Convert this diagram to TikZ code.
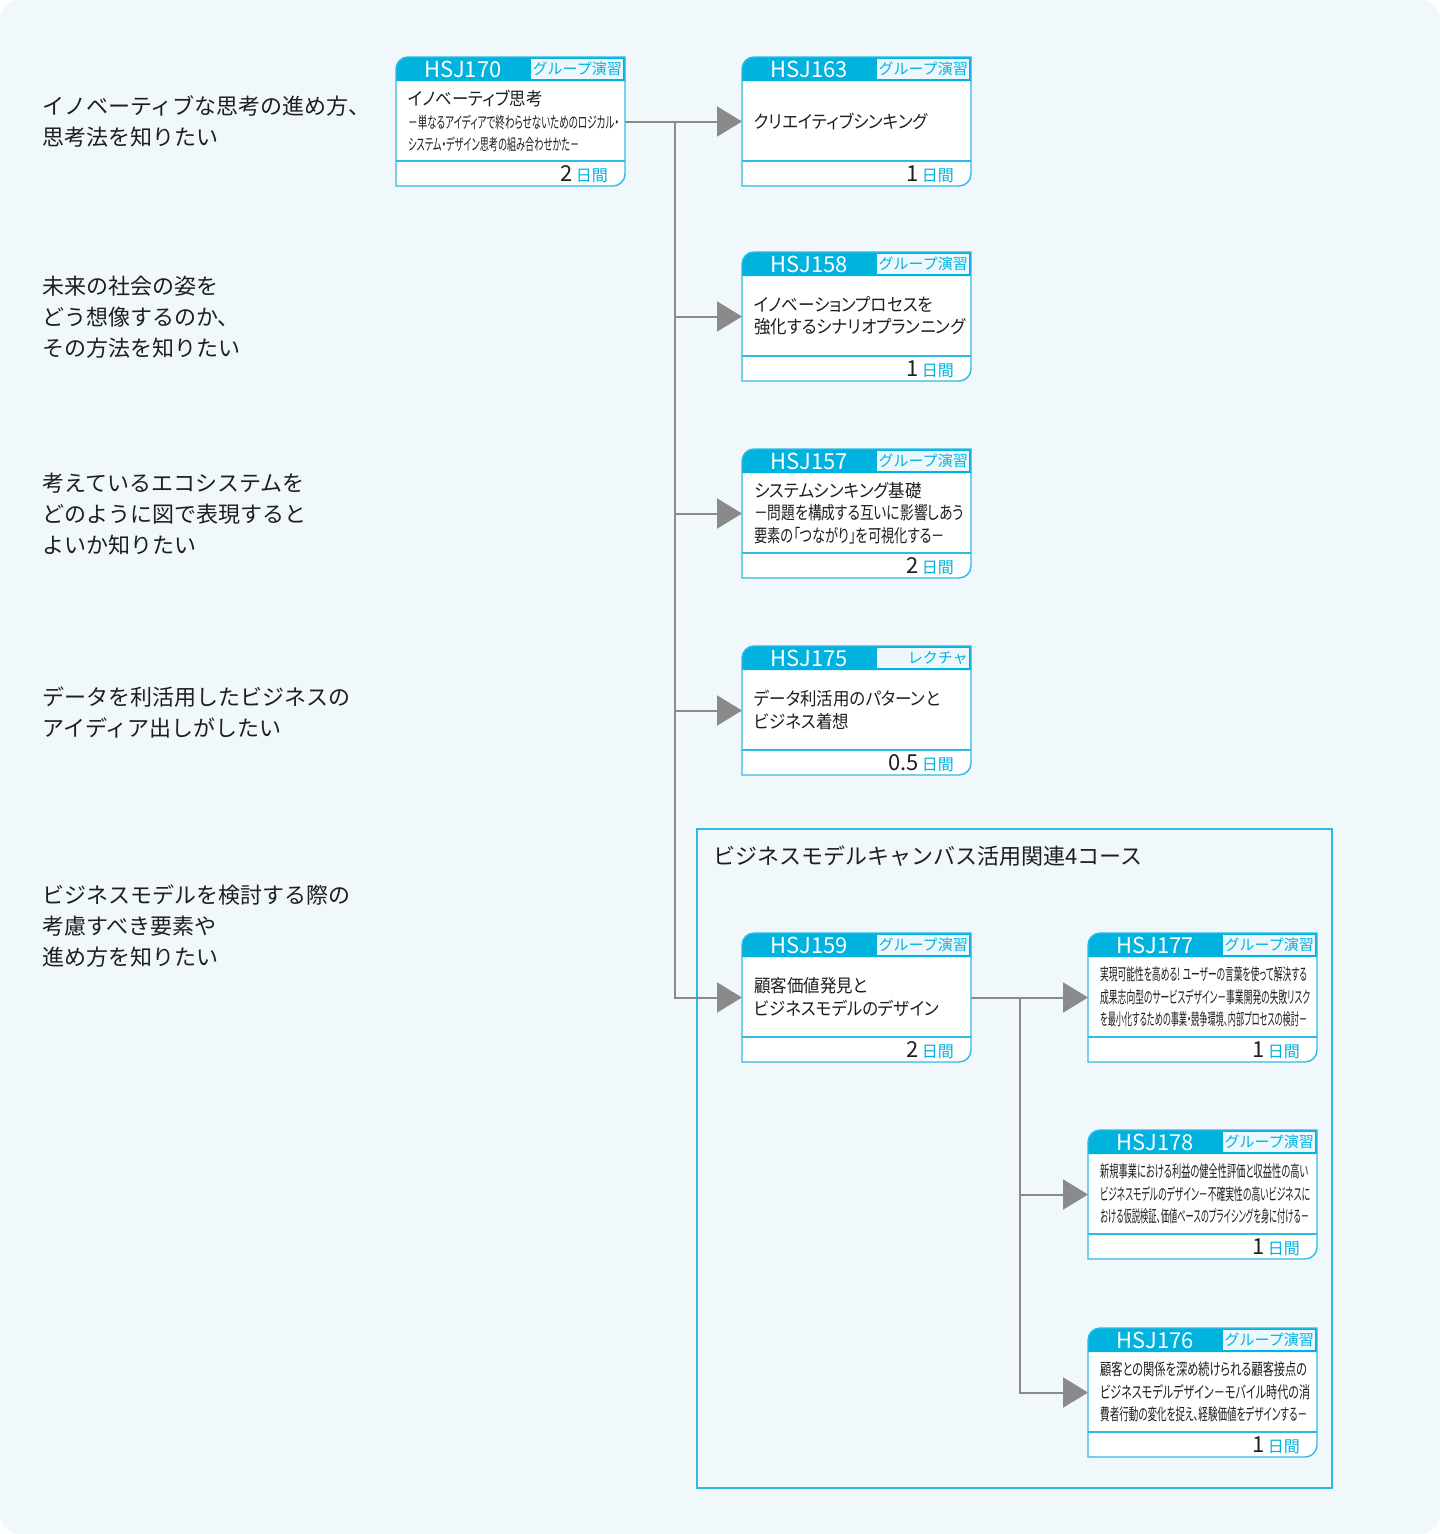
\documentclass[tikz,border=0pt]{standalone}
\usepackage{fontspec}
\usepackage{graphicx}
\setmainfont{Noto Sans CJK JP}
\newfontfamily\titlefont[FakeStretch=0.915,RawFeature=+palt]{Noto Sans CJK JP}
\newfontfamily\condfont[FakeStretch=0.6,RawFeature=+palt]{Noto Sans CJK JP}
\usetikzlibrary{arrows.meta,positioning,calc,fit}
\definecolor{HsjCyan}{RGB}{0,178,222}
\definecolor{HsjEdge}{RGB}{45,186,228}
\definecolor{TagFill}{RGB}{236,248,253}
\definecolor{PageBlue}{RGB}{241,248,252}
\definecolor{Ink}{RGB}{30,30,30}
\definecolor{LinkGrey}{RGB}{138,138,138}
\tikzset{
  coursebox/.style={minimum width=229pt, minimum height=129pt, inner sep=0pt, outer sep=0pt},
  boxedge/.style={draw=HsjEdge, line width=1.4pt},
  codetxt/.style={text=white, inner sep=0pt, font=\fontsize{22}{24}\selectfont},
  tagbox/.style={fill=TagFill, minimum width=92pt, minimum height=20pt, inner sep=0pt},
  tagtxt/.style={text=HsjCyan, inner sep=1pt, font=\fontsize{15}{16}\selectfont},
  titletxt/.style={text=Ink, align=left, inner sep=0pt, font=\titlefont\fontsize{18}{22.5}\selectfont},
  daytxt/.style={text=Ink, inner sep=0pt, font=\fontsize{22}{24}\selectfont},
  asklabel/.style={text=Ink, align=left, inner sep=0pt, anchor=west, font=\fontsize{22}{31}\selectfont},
  groupbox/.style={draw=HsjEdge, line width=1.4pt, inner sep=0pt},
  grouptitle/.style={text=Ink, inner sep=0pt, anchor=west, font=\fontsize{22}{24}\selectfont},
  flowarr/.style={-{Triangle[length=25pt, width=30pt]}, draw=LinkGrey, line width=2pt},
}
% condensed line squeezed to a set width
\newcommand\fitline[3]{\resizebox{#2pt}{\height}{\condfont\fontsize{#1}{22}\selectfont #3}}
% card outline: top-left and bottom-right corners rounded
\newcommand\cardpath[1]{(#1.south west) -- ([yshift=-12pt]#1.north west)
  arc[start angle=180, end angle=90, radius=12pt] -- (#1.north east)
  -- ([yshift=12pt]#1.south east) arc[start angle=0, end angle=-90, radius=12pt] -- cycle}
% #1 node, #2 code, #3 tag, #4 title, #5 days
\newcommand\coursecard[5]{%
  \fill[white] \cardpath{#1};
  \fill[HsjCyan] ([yshift=-24pt]#1.north west) -- ([yshift=-12pt]#1.north west)
    arc[start angle=180, end angle=90, radius=12pt] -- (#1.north east)
    -- ([yshift=-24pt]#1.north east) -- cycle;
  \node[tagbox, anchor=north east] (#1-tag) at ([xshift=-2pt,yshift=-2pt]#1.north east) {};
  \node[tagtxt, anchor=east] at (#1-tag.east) {#3};
  \node[codetxt] (#1-code) at ([xshift=67pt,yshift=-12pt]#1.north west) {#2};
  \draw[boxedge] \cardpath{#1};
  \draw[boxedge] ([yshift=25pt]#1.south west) -- ([yshift=25pt]#1.south east);
  \node[titletxt, anchor=west] (#1-title) at ([xshift=12pt,yshift=-64pt]#1.north west) {#4};
  \node[daytxt, anchor=east] (#1-days) at ([xshift=-17pt,yshift=12pt]#1.south east)
    {#5\hspace{3pt}{\fontsize{16}{18}\selectfont\color{HsjCyan}日間}};
}

\begin{document}
\begin{tikzpicture}[x=1pt, y=-1pt]

% page
\fill[white] (0,0) rectangle (1440,1534);
\fill[PageBlue, rounded corners=20pt] (0,0) rectangle (1440,1534);
\useasboundingbox (0,0) rectangle (1440,1534);

% ================= questions (left column) =================
\node[asklabel] (q1) at (42,121.5) {イノベーティブな思考の進め方、\\思考法を知りたい};
\node[asklabel] (q2) at (42,317) {未来の社会の姿を\\どう想像するのか、\\その方法を知りたい};
\node[asklabel] (q3) at (42,514) {考えているエコシステムを\\どのように図で表現すると\\よいか知りたい};
\node[asklabel] (q4) at (42,712) {データを利活用したビジネスの\\アイディア出しがしたい};
\node[asklabel] (q5) at (42,926) {ビジネスモデルを検討する際の\\考慮すべき要素や\\進め方を知りたい};

% ================= course cards =================
\node[coursebox, anchor=north west] (b170) at (396,57) {};
\node[coursebox, right=117pt of b170] (b163) {};
\node[coursebox, below=66pt of b163] (b158) {};
\node[coursebox, below=68pt of b158] (b157) {};
\node[coursebox, below=68pt of b157] (b175) {};
\node[coursebox, below=158pt of b175] (b159) {};
\node[coursebox, right=117pt of b159] (b177) {};
\node[coursebox, below=68pt of b177] (b178) {};
\node[coursebox, below=69pt of b178] (b176) {};

% group frame for the canvas courses
\node[groupbox, fit={(697,829) (1332,1488)}] (grp) {};
\node[grouptitle] (grptitle) at ([xshift=17pt,yshift=-28pt]grp.north west)
  {ビジネスモデルキャンバス活用関連4コース};

% ================= connectors =================
\coordinate (trunkA) at ([xshift=50pt]b170.east);
\draw[flowarr] (b170.east) -- (b163.west);
\draw[flowarr] (trunkA) |- (b159.west);
\draw[flowarr] (trunkA |- b158.west) -- (b158.west);
\draw[flowarr] (trunkA |- b157.west) -- (b157.west);
\draw[flowarr] (trunkA |- b175.west) -- (b175.west);

\coordinate (trunkB) at ([xshift=49pt]b159.east);
\draw[flowarr] (b159.east) -- (b177.west);
\draw[flowarr] (trunkB) |- (b176.west);
\draw[flowarr] (trunkB |- b178.west) -- (b178.west);

% ================= card contents =================
\coursecard{b170}{HSJ170}{グループ演習}
  {イノベーティブ思考\\\fitline{16}{211}{－単なるアイディアで終わらせないためのロジカル・}\\\fitline{16}{171}{システム・デザイン思考の組み合わせかた－}}{2}
\coursecard{b163}{HSJ163}{グループ演習}{クリエイティブシンキング}{1}
\coursecard{b158}{HSJ158}{グループ演習}{イノベーションプロセスを\\強化するシナリオプランニング}{1}
\coursecard{b157}{HSJ157}{グループ演習}
  {システムシンキング基礎\\\fitline{18}{210}{－問題を構成する互いに影響しあう}\\\fitline{18}{191}{要素の「つながり」を可視化する－}}{2}
\coursecard{b175}{HSJ175}{レクチャ}{データ利活用のパターンと\\ビジネス着想}{0.5}
\coursecard{b159}{HSJ159}{グループ演習}{顧客価値発見と\\ビジネスモデルのデザイン}{2}
\coursecard{b177}{HSJ177}{グループ演習}
  {\fitline{16.5}{207}{実現可能性を高める! ユーザーの言葉を使って解決する}\\\fitline{16.5}{210}{成果志向型のサービスデザイン－事業開発の失敗リスク}\\\fitline{16.5}{207}{を最小化するための事業・競争環境、内部プロセスの検討－}}{1}
\coursecard{b178}{HSJ178}{グループ演習}
  {\fitline{16.5}{208}{新規事業における利益の健全性評価と収益性の高い}\\\fitline{16.5}{210}{ビジネスモデルのデザイン－不確実性の高いビジネスに}\\\fitline{16.5}{209}{おける仮説検証、価値ベースのプライシングを身に付ける－}}{1}
\coursecard{b176}{HSJ176}{グループ演習}
  {\fitline{16.5}{207}{顧客との関係を深め続けられる顧客接点の}\\\fitline{16.5}{210}{ビジネスモデルデザイン－モバイル時代の消}\\\fitline{16.5}{207}{費者行動の変化を捉え、経験価値をデザインする－}}{1}

\end{tikzpicture}
\end{document}
